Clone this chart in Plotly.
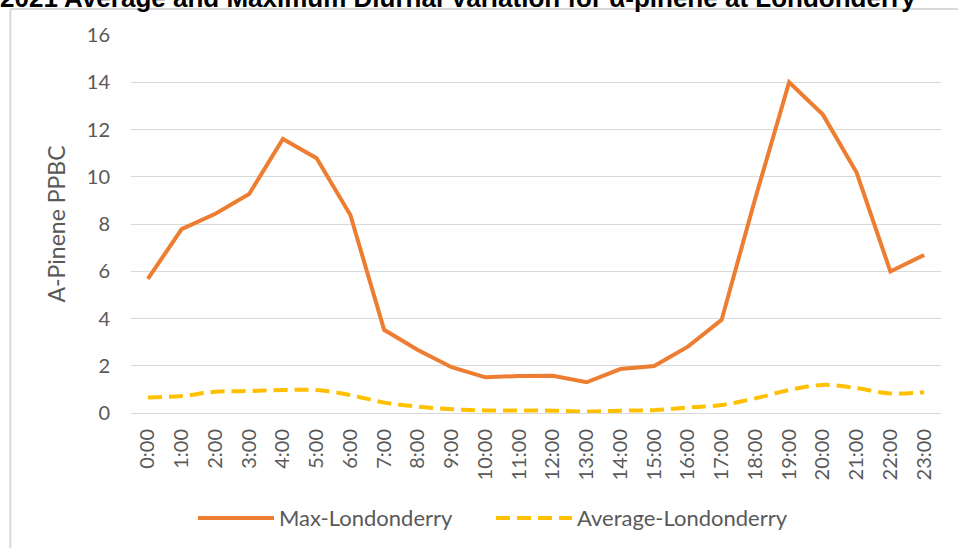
import plotly.graph_objects as go

hours = [f"{h}:00" for h in range(24)]
max_vals = [5.68, 7.78, 8.43, 9.27, 11.6, 10.78, 8.38, 3.52, 2.67, 1.94, 1.51, 1.57,
            1.58, 1.30, 1.86, 1.99, 2.81, 3.94, 9.1, 14.0, 12.63, 10.18, 5.99, 6.69]
avg_vals = [0.66, 0.72, 0.90, 0.93, 0.97, 0.97, 0.76, 0.44, 0.27, 0.16, 0.11, 0.11,
            0.10, 0.06, 0.10, 0.12, 0.23, 0.34, 0.62, 0.97, 1.19, 1.05, 0.83, 0.88]
y_ticks = [0, 2, 4, 6, 8, 10, 12, 14, 16]

title_text = "2021 Average and Maximum Diurnal Variation for α-pinene at Londonderry"
font_family = "Lato, 'Open Sans', sans-serif"
grey = "#595959"
grid = "#D9D9D9"

fig = go.Figure()
fig.add_trace(go.Scatter(x=hours, y=max_vals, mode="lines", name="Max-Londonderry",
                         line=dict(color="#ED7D31", width=4)))
fig.add_trace(go.Scatter(x=hours, y=avg_vals, mode="lines", name="Average-Londonderry",
                         line=dict(color="#FFC000", width=4, dash="14px,7px", shape="spline")))

fig.update_layout(
    width=958, height=548,
    margin=dict(l=131, r=17, t=35, b=135, autoexpand=False),
    paper_bgcolor="white", plot_bgcolor="white",
    font=dict(family=font_family, color=grey),
    showlegend=True,
    legend=dict(orientation="h", x=0.0765, xanchor="left", y=-0.278, yanchor="middle",
                font=dict(size=22, color=grey), itemwidth=76, entrywidth=207,
                bgcolor="rgba(0,0,0,0)"),
    xaxis=dict(type="category", range=[-0.5, 23.5], tickangle=-90,
               tickfont=dict(size=20, color=grey), automargin=False,
               showgrid=False, showline=True, linecolor=grid, linewidth=1,
               ticks="", ticklabelstandoff=7, zeroline=False),
    yaxis=dict(range=[0, 16], tickvals=y_ticks, tickfont=dict(size=20, color=grey),
               showgrid=True, gridcolor=grid, gridwidth=1, zeroline=False, automargin=False,
               showline=False, ticks="", ticklabelstandoff=20,
               title=dict(text="A-Pinene PPBC", font=dict(size=23, color=grey), standoff=14)),
    annotations=[
        dict(text="<b>" + title_text + "</b>", xref="paper", yref="paper",
             x=0.404, y=1.099, xanchor="center", yanchor="middle", showarrow=False,
             font=dict(family="'Liberation Sans', Arial, sans-serif", size=26, color="black")),
    ],
    shapes=[
        dict(type="line", xref="paper", yref="paper", x0=-0.149, x1=-0.149, y0=-0.4, y1=1.069,
             line=dict(color=grid, width=2)),
        dict(type="line", xref="paper", yref="paper", x0=-0.149, x1=1.05, y0=1.069, y1=1.069,
             line=dict(color=grid, width=2)),
    ],
)

fig.write_html("out.html", post_script="document.body.style.margin='0';",
               config={"displayModeBar": False})
